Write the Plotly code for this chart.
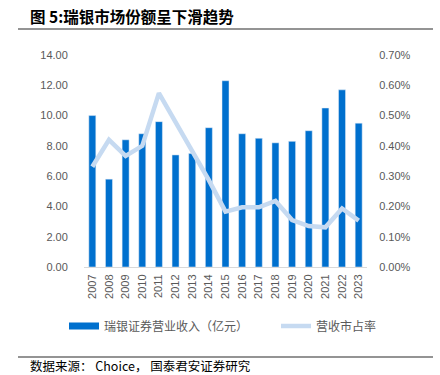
import plotly.graph_objects as go

years = [str(y) for y in range(2007, 2024)]
revenue = [10.0, 5.8, 8.4, 8.8, 9.6, 7.4, 7.5, 9.2, 12.3, 8.8, 8.5, 8.2, 8.3, 9.0, 10.5, 11.7, 9.5]
share_pct = [0.331, 0.42, 0.367, 0.40, 0.574, 0.48, 0.386, 0.287, 0.183, 0.197, 0.197, 0.218, 0.155, 0.135, 0.131, 0.193, 0.153]

bar_name = "瑞银证券营业收入（亿元）"
line_name = "营收市占率"
title_text = "图 5:瑞银市场份额呈下滑趋势"
source_text = "数据来源： Choice， 国泰君安证券研究"

BAR_COLOR = "#0070CE"
LINE_COLOR = "#C6DAF1"
TXT = "#595959"
CJK = "Noto Sans CJK SC"
LAT = "Liberation Sans, Arial"

PX_L, PX_R, PX_T, PX_B = 84, 367, 55, 267
PW, PH = PX_R - PX_L, PX_B - PX_T


def px(x):
    return (x - PX_L) / PW


def py(y):
    return (PX_B - y) / PH


fig = go.Figure()
fig.add_trace(go.Bar(x=years, y=revenue, name=bar_name, marker_color=BAR_COLOR,
                     yaxis="y", showlegend=False))
# legend entry for bars shown as a wide block
fig.add_trace(go.Scatter(x=[None], y=[None], mode="lines", name=bar_name,
                         line=dict(color=BAR_COLOR, width=7), legend="legend"))
fig.add_trace(go.Scatter(x=years, y=share_pct, name=line_name, mode="lines",
                         line=dict(color=LINE_COLOR, width=4.5), yaxis="y2",
                         legend="legend2"))

legend_common = dict(orientation="h", xanchor="left", yanchor="middle",
                     font=dict(family=CJK, size=12, color=TXT), itemwidth=30,
                     bgcolor="rgba(0,0,0,0)")

fig.update_layout(
    width=440, height=375,
    margin=dict(l=PX_L, r=440 - PX_R, t=PX_T, b=375 - PX_B, autoexpand=False),
    paper_bgcolor="white", plot_bgcolor="white",
    bargap=0.58,
    font=dict(family=LAT, size=11, color=TXT),
    xaxis=dict(type="category", tickangle=-90, showgrid=False, showline=True,
               linecolor="#D9D9D9", linewidth=1, ticks="outside", ticklen=2,
               tickcolor="rgba(0,0,0,0)",
               tickfont=dict(family=LAT, size=11, color=TXT)),
    yaxis=dict(range=[0, 14], dtick=2, tickformat=".2f", showgrid=False,
               zeroline=False, showline=False, ticks="outside", ticklen=13,
               tickcolor="rgba(0,0,0,0)",
               tickfont=dict(family=LAT, size=11, color=TXT)),
    yaxis2=dict(range=[0, 0.7], dtick=0.1, tickformat=".2f", ticksuffix="%",
                overlaying="y", side="right", showgrid=False, zeroline=False,
                showline=False, ticks="outside", ticklen=9,
                tickcolor="rgba(0,0,0,0)",
                tickfont=dict(family=LAT, size=11, color=TXT)),
    legend=dict(x=px(64), y=py(326), **legend_common),
    legend2=dict(x=px(276), y=py(326), **legend_common),
    showlegend=True,
)

fig.add_annotation(text="<b>" + title_text + "</b>", xref="paper", yref="paper",
                   x=px(28), y=py(16), xanchor="left", yanchor="middle",
                   showarrow=False, font=dict(family=CJK, size=15.5, color="black"))
fig.add_annotation(text=source_text, xref="paper", yref="paper",
                   x=px(28), y=py(365), xanchor="left", yanchor="middle",
                   showarrow=False, font=dict(family=CJK, size=12.5, color="black"))

for yy in [29, 357]:
    fig.add_shape(type="line", xref="paper", yref="paper",
                  x0=px(18), x1=px(433), y0=py(yy), y1=py(yy),
                  line=dict(color="#707070", width=1.5))

fig.write_html("out.html", config={"displayModeBar": False},
               post_script="document.body.style.margin='0px';")
